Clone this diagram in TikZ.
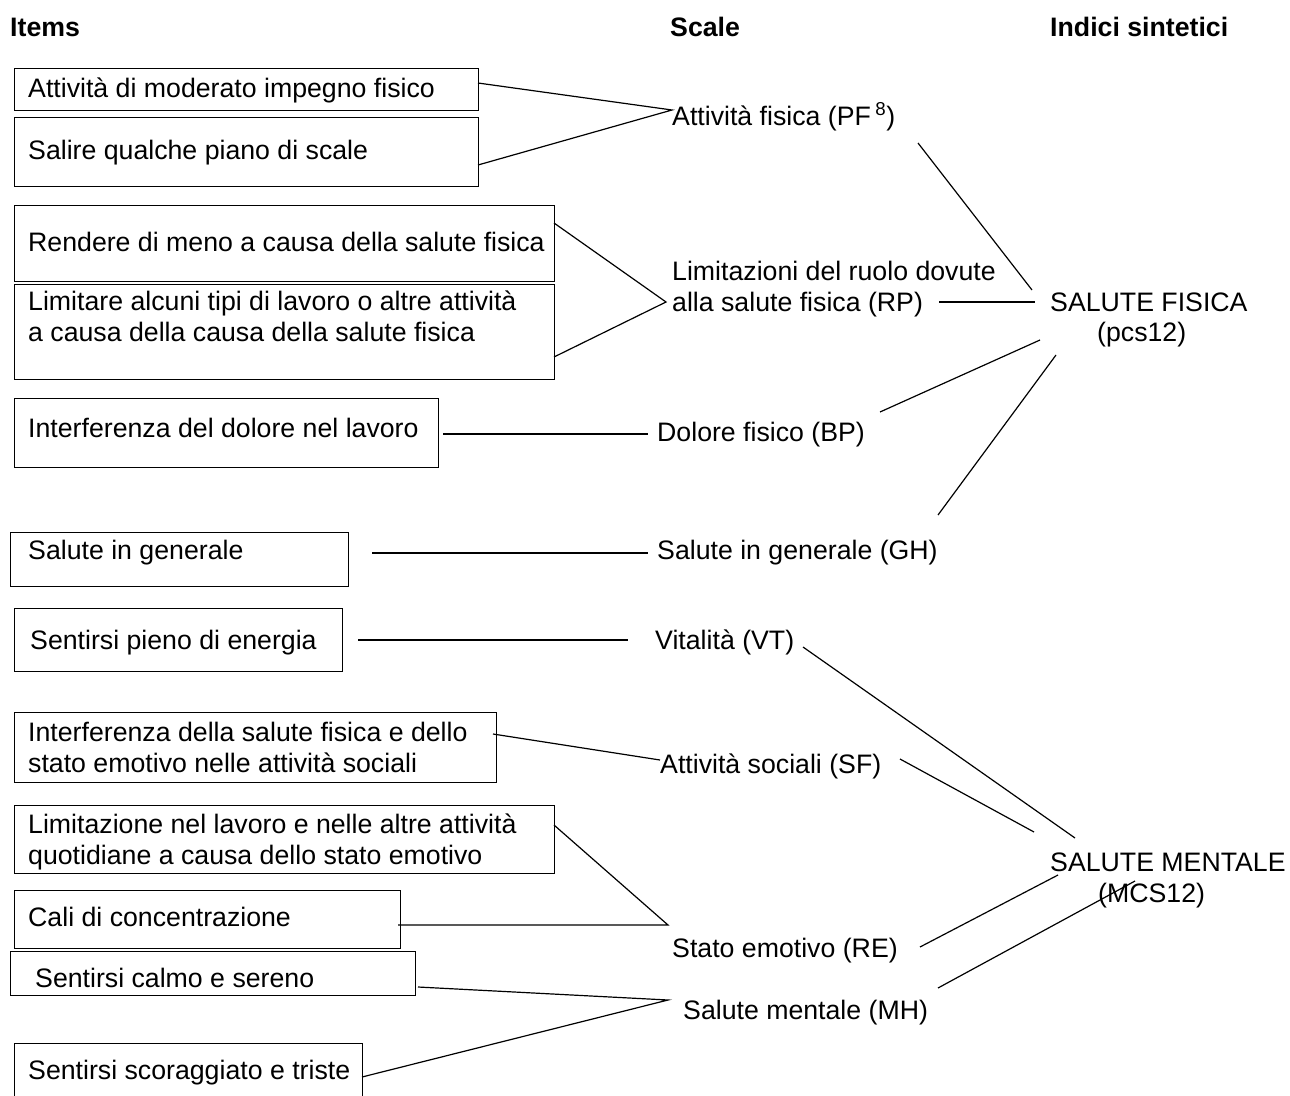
\documentclass[tikz,border=0pt]{standalone}
\usepackage{fontspec}
\setmainfont{Liberation Sans}
\begin{document}
\begin{tikzpicture}[x=1pt,y=-1pt,
  box/.style={draw,line width=1.3pt,inner sep=0,anchor=north west},
  txt/.style={inner sep=0,anchor=base west,font=\fontsize{26.7}{31}\selectfont},
  multi/.style={txt,align=left},
  hdr/.style={txt,font=\fontsize{26.7}{31}\selectfont\bfseries},
  link/.style={line width=1.2pt}]
\useasboundingbox (0,0) rectangle (1290,1095);
% headers
\node[hdr] (hItems) at (10,36) {Items};
\node[hdr] (hScale) at (670,36) {Scale};
\node[hdr] (hIndici) at (1050,36) {Indici sintetici};
% boxes
\node[box,minimum width=464,minimum height=42] (b1) at (14,68) {};
\node[box,minimum width=464,minimum height=69] (b2) at (14,117) {};
\node[box,minimum width=540,minimum height=76] (b3) at (14,205) {};
\node[box,minimum width=540,minimum height=95] (b4) at (14,284) {};
\node[box,minimum width=424,minimum height=69] (b5) at (14,398) {};
\node[box,minimum width=338,minimum height=54] (b6) at (10,532) {};
\node[box,minimum width=328,minimum height=63] (b7) at (14,608) {};
\node[box,minimum width=482,minimum height=70] (b8) at (14,712) {};
\node[box,minimum width=540,minimum height=68] (b9) at (14,805) {};
\node[box,minimum width=386,minimum height=58] (b10) at (14,890) {};
\node[box,minimum width=405,minimum height=44] (b11) at (10,951) {};
\node[box,minimum width=348,minimum height=60] (b12) at (14,1043) {};
% box texts (multi-line nodes: base = last line)
\node[txt] (t1) at (28,97) {Attività di moderato impegno fisico};
\node[txt] (t2) at (28,159) {Salire qualche piano di scale};
\node[txt] (t3) at (28,251) {Rendere di meno a causa della salute fisica};
\node[multi] (t4) at (28,341) {Limitare alcuni tipi di lavoro o altre attività\\a causa della causa della salute fisica};
\node[txt] (t5) at (28,437) {Interferenza del dolore nel lavoro};
\node[txt] (t6) at (28,559) {Salute in generale};
\node[txt] (t7) at (30,649) {Sentirsi pieno di energia};
\node[multi] (t8) at (28,772) {Interferenza della salute fisica e dello\\stato emotivo nelle attività sociali};
\node[multi] (t9) at (28,864) {Limitazione nel lavoro e nelle altre attività\\quotidiane a causa dello stato emotivo};
\node[txt] (t10) at (28,926) {Cali di concentrazione};
\node[txt] (t11) at (35,987) {Sentirsi calmo e sereno};
\node[txt] (t12) at (28,1079) {Sentirsi scoraggiato e triste};
% scales
\node[txt] (PF) at (672,125) {Attività fisica (PF\,\textsuperscript{8})};
\node[multi] (RP) at (672,311) {Limitazioni del ruolo dovute\\alla salute fisica (RP)};
\node[txt] (BP) at (657,441) {Dolore fisico (BP)};
\node[txt] (GH) at (657,559) {Salute in generale (GH)};
\node[txt] (VT) at (655,649) {Vitalità (VT)};
\node[txt] (SF) at (660,773) {Attività sociali (SF)};
\node[txt] (RE) at (672,957) {Stato emotivo (RE)};
\node[txt] (MH) at (683,1019) {Salute mentale (MH)};
% indices
\node[txt] (PCS) at (1050,311) {SALUTE FISICA};
\node[txt] (PCSb) at (1097,341) {(pcs12)};
\node[txt] (MCS) at (1050,871) {SALUTE MENTALE};
\node[txt] (MCSb) at (1098,902) {(MCS12)};
% connector end points
\coordinate (a1) at (478,83);  \coordinate (a2) at (478,165); \coordinate (pPF) at (672,110);
\coordinate (a3) at (554,223); \coordinate (a4) at (554,357); \coordinate (pRP) at (666,302);
\coordinate (a5) at (443,434); \coordinate (pBP) at (648,434);
\coordinate (a6) at (372,553); \coordinate (pGH) at (648,553);
\coordinate (a7) at (358,640); \coordinate (pVT) at (628,640);
\coordinate (a8) at (493,734); \coordinate (pSF) at (660,760);
\coordinate (a9) at (554,825); \coordinate (a10) at (398,925); \coordinate (pRE) at (668,925);
\coordinate (a11) at (418,987); \coordinate (a12) at (362,1077); \coordinate (pMH) at (668,1000);
\coordinate (s1) at (918,143);  \coordinate (i1) at (1032,290);
\coordinate (s2) at (939,302);  \coordinate (i2) at (1035,302);
\coordinate (s3) at (880,412);  \coordinate (i3) at (1040,340);
\coordinate (s4) at (938,515);  \coordinate (i4) at (1056,355);
\coordinate (s5) at (803,647);  \coordinate (i5) at (1075,838);
\coordinate (s6) at (900,759);  \coordinate (i6) at (1034,832);
\coordinate (s7) at (920,947);  \coordinate (i7) at (1058,875);
\coordinate (s8) at (938,988);  \coordinate (i8) at (1135,881);
% item -> scale
\draw[link] (a1) -- (pPF) -- (a2);
\draw[link] (a3) -- (pRP) -- (a4);
\draw[link] (a5) -- (pBP);
\draw[link] (a6) -- (pGH);
\draw[link] (a7) -- (pVT);
\draw[link] (a8) -- (pSF);
\draw[link] (a9) -- (pRE) -- (a10);
\draw[link] (a11) -- (pMH) -- (a12);
% scale -> index
\draw[link] (s1) -- (i1);
\draw[link] (s2) -- (i2);
\draw[link] (s3) -- (i3);
\draw[link] (s4) -- (i4);
\draw[link] (s5) -- (i5);
\draw[link] (s6) -- (i6);
\draw[link] (s7) -- (i7);
\draw[link] (s8) -- (i8);
\end{tikzpicture}
\end{document}
